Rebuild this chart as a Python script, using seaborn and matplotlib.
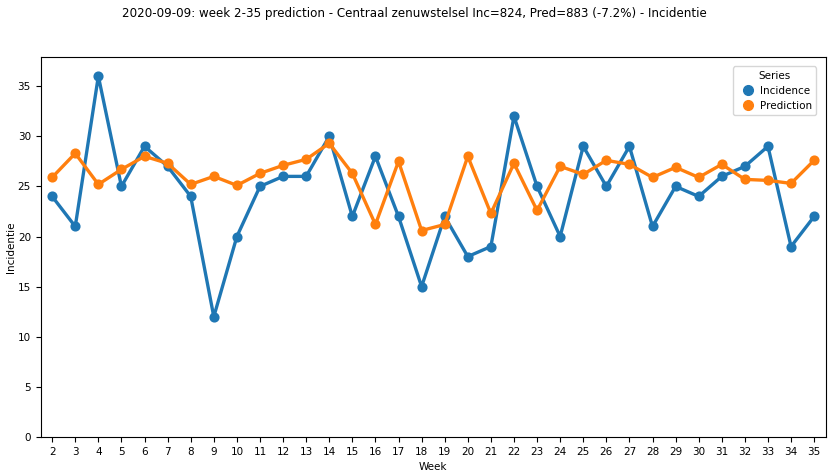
import matplotlib
matplotlib.use("Agg")
import matplotlib.pyplot as plt
from matplotlib.lines import Line2D
import pandas as pd
import seaborn as sns

weeks = list(range(2, 36))
incidence = [24, 21, 36, 25, 29, 27, 24, 12, 20, 25, 26, 26, 30, 22, 28, 22, 15,
             22, 18, 19, 32, 25, 20, 29, 25, 29, 21, 25, 24, 26, 27, 29, 19, 22]
prediction = [25.9, 28.3, 25.2, 26.7, 28.0, 27.3, 25.2, 26.0, 25.1, 26.3, 27.1, 27.7,
              29.3, 26.3, 21.2, 27.5, 20.6, 21.2, 28.0, 22.3, 27.3, 22.6, 27.0, 26.2,
              27.6, 27.2, 25.9, 26.9, 25.9, 27.2, 25.7, 25.6, 25.3, 27.6]
series_names = ["Incidence", "Prediction"]

df = pd.DataFrame({
    "Week": weeks * 2,
    "Incidentie": incidence + prediction,
    "Series": [series_names[0]] * len(weeks) + [series_names[1]] * len(weeks),
})

plt.rcParams["font.family"] = ["DejaVu Sans"]
fig = plt.figure(figsize=(8.29, 4.76), dpi=100)
ax = fig.add_axes([0.049, 0.082, 0.947, 0.798])

palette = ["#1f77b4", "#ff7f0e"]
sns.pointplot(data=df, x="Week", y="Incidentie", hue="Series", palette=palette,
              markersize=5.5, linewidth=2.4, ax=ax)

ax.set_ylim(0, 37.9)
ax.set_xlim(-0.5, len(weeks) - 0.5)
ax.tick_params(labelsize=7.5)
ax.set_xlabel("Week", fontsize=7.5)
ax.set_ylabel("Incidentie", fontsize=7.5, labelpad=1.5)

handles = [Line2D([], [], linestyle="none", marker="o", markersize=7, color=c) for c in palette]
ax.legend(handles, series_names, title="Series", loc="upper right",
          fontsize=7.5, title_fontsize=7.5, handletextpad=0.2, borderaxespad=0.9)

fig.suptitle("2020-09-09: week 2-35 prediction - Centraal zenuwstelsel Inc=824, Pred=883 (-7.2%) - Incidentie",
             fontsize=8.6, y=0.985)

fig.savefig("out.png", dpi=100)
